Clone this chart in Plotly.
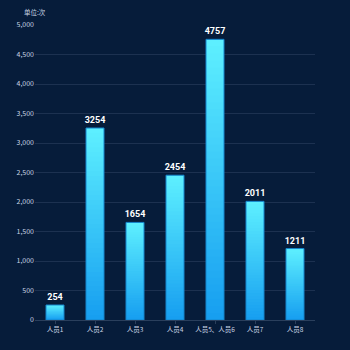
import plotly.graph_objects as go

categories = ["人员1", "人员2", "人员3", "人员4", "人员5、人员6", "人员7", "人员8"]
values = [254, 3254, 1654, 2454, 4757, 2011, 1211]
y_ticks = [0, 500, 1000, 1500, 2000, 2500, 3000, 3500, 4000, 4500, 5000]

top_rgb = (94, 240, 255)
bot_rgb = (22, 158, 240)
N = 40

fig = go.Figure()
# draw overlapping bars from tallest (top colour) to shortest (bottom colour) to form a gradient
for i in range(N):
    frac = (N - i) / N
    t = (N - i - 0.5) / N
    c = tuple(round(bot_rgb[k] + (top_rgb[k] - bot_rgb[k]) * t) for k in range(3))
    fig.add_trace(go.Bar(
        x=categories,
        y=[v * frac for v in values],
        marker=dict(color="rgb(%d,%d,%d)" % c, line=dict(width=0)),
        width=0.45, hoverinfo="skip", showlegend=False,
    ))
fig.add_trace(go.Bar(
    x=categories, y=values,
    marker=dict(color="rgba(0,0,0,0)", line=dict(color="#1585cc", width=1)),
    width=0.45, text=["<b>%d</b>" % v for v in values], textposition="outside",
    constraintext="none",
    textfont=dict(color="white", size=9, family="Liberation Sans Narrow, Roboto"),
    cliponaxis=False, showlegend=False,
))

fig.update_layout(
    width=350, height=350, barmode="overlay",
    margin=dict(l=35, r=35, t=25, b=30),
    paper_bgcolor="#061c3a", plot_bgcolor="#061c3a",
    font=dict(family="Noto Sans CJK SC", color="#c8d4e4", size=7),
    xaxis=dict(showgrid=False, showline=True, linecolor="#2a3f5c", ticks="outside",
               tickcolor="#2a3f5c", ticklen=3, tickfont=dict(size=6.5, color="#c8d4e4")),
    yaxis=dict(range=[0, 5000], tickvals=y_ticks, tickformat=",", gridcolor="#1c3150",
               zeroline=False, showline=False, tickfont=dict(size=7, color="#c8d4e4")),
    annotations=[dict(text="单位:次", xref="paper", yref="paper", x=0, y=1, xanchor="center",
                      yanchor="bottom", yshift=6, showarrow=False,
                      font=dict(size=6.5, color="#c8d4e4"))],
)
fig.write_html("out.html")
